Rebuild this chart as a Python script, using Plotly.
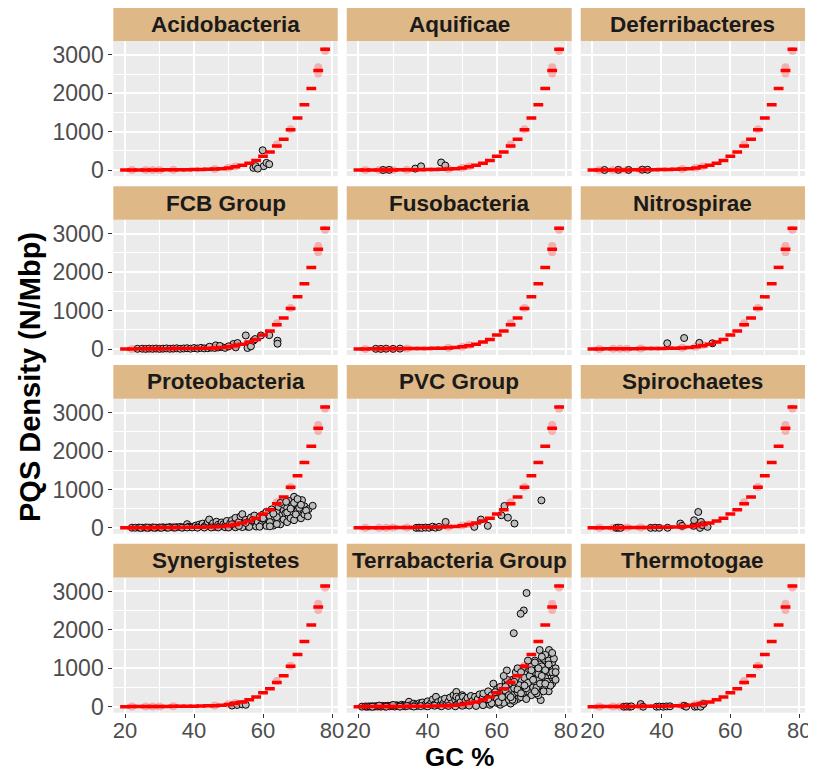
import plotly.graph_objects as go

# the page body adds an 8px margin; the figure is sized so the page fits the window
OFF = 8
W, H = 816 - OFF, 771 - OFF

phyla = ["Acidobacteria", "Aquificae", "Deferribacteres",
         "FCB Group", "Fusobacteria", "Nitrospirae",
         "Proteobacteria", "PVC Group", "Spirochaetes",
         "Synergistetes", "Terrabacteria Group", "Thermotogae"]

# expected (red dashes), same in every panel
exp_gc = [20, 22, 24, 26, 28, 30, 32, 34, 36, 38, 40, 42, 44, 46, 48,
          50, 52, 54, 56, 58, 60, 62, 64, 66, 68, 70, 72, 74, 76, 78]
exp_density = [2, 3, 4, 5, 6, 7, 8, 10, 11, 13, 15, 18, 22, 28, 38,
               58, 88, 125, 180, 250, 362, 470, 630, 806, 1055, 1358, 1700, 2125, 2595, 3145]

# replicate (faded red circles)
rep_gc = [22, 26, 28, 30, 34, 46, 50, 52, 64, 68, 76, 76, 78]
rep_density = [3, 5, 6, 7, 10, 30, 62, 95, 670, 1065, 2680, 2520, 3100]

# observed genomes per phylum
acido_gc = [57.2, 57.9, 59.9, 60.2, 61.0, 61.8, 58.5]
acido_den = [60, 104, 518, 104, 190, 155, 40]

aquif_gc = [27.1, 28.9, 36.4, 38.1, 43.9, 45.1]
aquif_den = [5, 8, 40, 100, 200, 120]

defer_gc = [23.5, 27.5, 30.5, 34.5, 36]
defer_den = [5, 8, 6, 12, 10]

fcb_gc = [23.6, 25, 26, 27, 28, 29, 30, 31, 32, 33, 34, 35, 36, 37, 38, 39, 40, 41, 42, 43, 44, 45,
          46, 47, 48, 46.3, 51.4, 52.6, 52.1, 55, 55.5, 56.5, 57.2, 57.7, 59.4, 61.8, 64.2, 64.2,
          44.5, 47.5, 49, 50]
fcb_den = [5, 8, 3, 10, 6, 12, 4, 9, 15, 7, 11, 18, 6, 14, 20, 9, 25, 12, 30, 16, 22, 35,
           28, 40, 50, 95, 130, 155, 43, 353, 26, 69, 216, 259, 353, 362, 216, 138,
           60, 80, 30, 70]

fuso_gc = [25, 26.5, 28, 30, 32]
fuso_den = [5, 3, 8, 4, 10]

nitro_gc = [41.7, 46.6, 51.0, 54.8]
nitro_den = [150, 286, 160, 150]

proteo_gc = [22, 23, 24, 25, 26, 27, 28, 29, 30, 31, 32, 33, 34, 35, 36, 37, 38, 38.5, 39, 40,
             24.5, 26.5, 28.5, 30.5, 32.5, 34.5, 36.5, 38, 39.5,
             40.5, 41, 41.5, 42, 42.5, 43, 43.5, 44, 44.4, 45, 45.5, 46, 46.5, 47, 47.5, 48, 48.5, 49, 49.5, 50,
             41, 43, 45, 47, 49,
             50.5, 51, 51.5, 52, 52.5, 53, 53.5, 54, 54.5, 55, 55.5, 56, 56.5, 57, 57.5, 58,
             50, 52, 54, 56, 58, 51, 53, 55, 57,
             58.5, 59, 59.5, 60, 60.5, 61, 61.5, 62, 62.5, 63, 63.5, 64, 64.5, 65, 65.5, 66,
             59, 61, 63, 65, 60, 62, 64, 66, 66, 65, 64, 63, 62,
             66.5, 67, 67.5, 68, 68.5, 69, 69.5, 70, 70.5, 71, 71.3, 71.5, 72,
             67, 68, 69, 70, 67.5, 68.5, 69.5, 70.5, 71, 72, 66.7, 67, 68, 69, 70, 71,
             73.2, 74.4, 72.5, 73]
proteo_den = [5, 3, 8, 4, 10, 6, 12, 5, 9, 15, 8, 20, 12, 18, 25, 14, 96, 30, 22, 35,
              0, 2, 3, 1, 4, 6, 5, 10, 12,
              60, 20, 85, 45, 110, 30, 70, 150, 217, 55, 120, 25, 160, 80, 40, 140, 95, 60, 180, 30,
              5, 8, 10, 12, 15,
              120, 200, 70, 260, 40, 150, 300, 357, 90, 210, 30, 180, 270, 110, 320, 60,
              10, 15, 20, 25, 35, 95, 50, 130, 200,
              150, 280, 80, 350, 200, 420, 120, 300, 480, 60, 250, 400, 550, 180, 330, 460,
              30, 50, 120, 90, 250, 150, 280, 220, 600, 650, 100, 370, 40,
              380, 520, 290, 680, 420, 809, 560, 635, 300, 480, 722, 400, 560,
              150, 250, 200, 450, 700, 600, 350, 520, 250, 350, 678, 400, 500, 650, 750, 600,
              487, 574, 450, 300]

pvc_gc = [36.7, 37.5, 38.3, 39.4, 40.4, 41.4, 42.3, 43.3, 45.2, 53.5, 55.4, 57.4, 61.3, 62.2, 63.2, 65.1, 72.9]
pvc_den = [0, 5, 0, 8, 3, 30, 5, 25, 155, 26, 216, 52, 328, 569, 267, 112, 716]

spiro_gc = [26.9, 27.5, 28.2, 36.9, 38.2, 39.4, 41.8, 45.5, 46, 49.3, 49.5, 50.7, 51.5, 51.2, 51.9, 53.4]
spiro_den = [0, 5, 0, 0, 3, 0, 2, 112, 52, 52, 198, 414, 155, 0, 69, 26]

synerg_gc = [51, 52.5, 54, 55]
synerg_den = [30, 45, 60, 50]

terra_gc = [21, 22, 22.5, 23, 23.5, 24, 24.5, 25, 25.5, 26, 26.5, 27, 27.5, 28, 28.5, 29, 29.5, 30, 30.5,
            31, 31.5, 32, 32.5, 33, 33.5, 34, 34.6, 35, 35.5, 36, 36.5, 37, 37.6, 38, 38.5, 39, 39.5,
            40, 40.5, 41, 41.5, 42, 42.4, 43, 43.5, 44, 44.5, 45,
            24, 28, 32, 36, 40, 44, 26, 30, 34, 38, 42,
            45.5, 46, 46.5, 47, 47.5, 48, 48.3, 48.3, 48.5, 49, 49.5, 50, 50.2, 50.5, 51, 51.5, 52, 52.5,
            53, 53.7, 54, 54.5, 55, 55.5, 56, 56.1, 56.5, 57, 57.5, 58, 58.5, 59, 59.5, 60,
            46, 48, 50, 52, 54, 56, 58, 60,
            60.5, 61, 61.5, 62, 62.5, 62.9, 63, 63.5, 64, 64.5, 65, 65.5, 66, 66.5, 67, 67.5, 68, 68.5,
            69, 69.5, 70, 60, 61, 62, 63, 64, 65, 66, 67, 68, 69, 70, 61.5, 63.5, 65.5, 67.5, 69.5,
            64.5, 66.5, 68.5, 62, 66, 67,
            70.5, 71, 71.5, 72, 72.4, 72.5, 72.7, 73, 73.5, 74, 74.6, 75, 75.1, 75.5, 76, 76.5, 77,
            71, 72, 73, 74, 75, 76, 70.5, 71.5, 73.5, 74.5, 71, 72, 73, 74,
            62.5, 63, 63.5, 64, 64.5, 65, 65.5, 66, 66.5, 67, 67.5, 68, 68.5, 69, 69.5, 70, 70.5, 71,
            71.5, 72, 72.5, 73, 73.5, 74, 74.5, 75, 75.5, 76, 76.5, 77,
            64, 65, 66, 67, 68, 69, 70, 71, 72, 73, 74, 75, 76, 77, 60.5, 61.5, 62.5, 59.5, 58.5, 57.5,
            68.6, 67.8, 66.9, 64.9]
terra_den = [2, 5, 0, 8, 3, 10, 4, 12, 6, 15, 2, 20, 8, 14, 25, 10, 30, 18, 5,
             40, 22, 12, 50, 28, 8, 60, 129, 35, 15, 80, 45, 20, 90, 55, 110, 30, 70,
             140, 40, 95, 189, 60, 258, 120, 30, 170, 80, 210,
             0, 0, 2, 5, 8, 12, 30, 45, 20, 15, 25,
             50, 130, 240, 90, 300, 180, 386, 258, 60, 220, 120, 300, 258, 40, 160, 230, 90, 280,
             150, 258, 60, 200, 320, 110, 250, 343, 70, 180, 400, 130, 300, 600, 220, 450,
             20, 10, 25, 30, 20, 40, 50, 100,
             300, 515, 150, 400, 650, 944, 250, 500, 80, 700, 350, 600, 200, 800, 450, 1000, 300, 650,
             900, 500, 750, 200, 50, 100, 700, 450, 150, 550, 250, 850, 400, 300, 350, 180, 900, 600, 1100,
             300, 420, 200, 800, 1000, 700,
             1000, 600, 850, 400, 1476, 1100, 172, 700, 1250, 500, 1330, 900, 1476, 650, 1150, 800, 1000,
             1200, 300, 950, 1350, 400, 600, 500, 350, 850, 1050, 900, 700, 1050, 750,
             420, 560, 300, 620, 180, 480, 750, 380, 560, 900, 350, 750, 480, 620, 800, 1050, 700, 1150,
             500, 850, 600, 1300, 400, 950, 650, 1200, 550, 900, 1250, 700,
             250, 650, 450, 350, 550, 1200, 950, 400, 1000, 800, 600, 1100, 1400, 900, 120, 250, 520, 380, 90, 200,
             2961, 2506, 2420, 1914]

thermo_gc = [29.1, 29.9, 30.8, 31.3, 34, 34.7, 38.6, 39.4, 40.5, 41.5, 42.5, 46.6, 47.2, 49.7, 50.4, 51.4, 52.2]
thermo_den = [0, 5, 0, 8, 69, 0, 0, 5, 0, 8, 10, 26, 0, 0, 8, 0, 69]

obs_gc = [acido_gc, aquif_gc, defer_gc, fcb_gc, fuso_gc, nitro_gc,
          proteo_gc, pvc_gc, spiro_gc, synerg_gc, terra_gc, thermo_gc]
obs_den = [acido_den, aquif_den, defer_den, fcb_den, fuso_den, nitro_den,
           proteo_den, pvc_den, spiro_den, synerg_den, terra_den, thermo_den]

x_ticks = [20, 40, 60, 80]
y_ticks = [0, 1000, 2000, 3000]

# layout geometry (window pixels)
cols = [(113.3, 337.7), (346.7, 571.7), (580.7, 805.0)]
strip_tops = [7.3, 186.15, 365.0, 543.85]
strip_h = 33.7
panel_h = 135.15


def px(v):
    return (v - OFF) / W


def py(v):
    return 1 - (v - OFF) / H


FONT = "Liberation Sans, Arial, sans-serif"

fig = go.Figure()
layout = dict(
    width=W, height=H, margin=dict(l=0, r=0, t=0, b=0, autoexpand=False),
    paper_bgcolor="white", plot_bgcolor="#EBEBEB",
    showlegend=False, font=dict(family=FONT),
    shapes=[], annotations=[],
)

for i, name in enumerate(phyla):
    r, c = divmod(i, 3)
    x0, x1 = cols[c]
    st = strip_tops[r]
    ptop = st + strip_h
    pbot = ptop + panel_h
    k = "" if i == 0 else str(i + 1)
    xa, ya = "x" + k, "y" + k
    layout["xaxis" + k] = dict(
        domain=[px(x0), px(x1)], range=[16.6, 81.65], anchor=ya, automargin=False,
        tickvals=x_ticks, showticklabels=(r == 3), ticklabelstandoff=-6,
        ticks="outside" if r == 3 else "", ticklen=4, tickwidth=1.1, tickcolor="#333333",
        tickfont=dict(size=22, color="#4D4D4D", family=FONT),
        showgrid=True, gridcolor="white", gridwidth=1.6, zeroline=False,
        minor=dict(tickvals=[30, 50, 70], showgrid=True, gridcolor="white", gridwidth=0.7),
        showline=False, fixedrange=True,
    )
    layout["yaxis" + k] = dict(
        domain=[py(pbot), py(ptop)], range=[-156, 3363], anchor=xa, automargin=False,
        tickvals=y_ticks, showticklabels=(c == 0),
        ticks="outside" if c == 0 else "", ticklen=4, tickwidth=1.1, tickcolor="#333333",
        tickfont=dict(size=23, color="#4D4D4D", family=FONT),
        showgrid=True, gridcolor="white", gridwidth=1.6, zeroline=False,
        minor=dict(tickvals=[500, 1500, 2500], showgrid=True, gridcolor="white", gridwidth=0.7),
        showline=False, fixedrange=True,
    )
    layout["shapes"].append(dict(
        type="rect", xref="paper", yref="paper",
        x0=px(x0), x1=px(x1), y0=py(st + strip_h), y1=py(st),
        fillcolor="#DEB887", line=dict(width=0), layer="below",
    ))
    layout["annotations"].append(dict(
        xref="paper", yref="paper", x=px((x0 + x1) / 2), y=py(st + strip_h / 2),
        text="<b>%s</b>" % name, showarrow=False, xanchor="center", yanchor="middle",
        font=dict(size=22.5, color="#1A1A1A", family=FONT),
    ))

    fig.add_trace(go.Scatter(
        x=obs_gc[i], y=obs_den[i], xaxis=xa, yaxis=ya, mode="markers",
        marker=dict(size=7, color="#BEBEBE", line=dict(color="black", width=1)),
        hoverinfo="skip",
    ))
    fig.add_trace(go.Scatter(
        x=rep_gc, y=rep_density, xaxis=xa, yaxis=ya, mode="markers",
        marker=dict(size=8, color="rgba(255,0,0,0.25)", line=dict(width=0)),
        hoverinfo="skip",
    ))
    fig.add_trace(go.Scatter(
        x=exp_gc, y=exp_density, xaxis=xa, yaxis=ya, mode="markers",
        marker=dict(symbol="line-ew", size=7, line=dict(color="red", width=3.5)),
        hoverinfo="skip",
    ))

layout["annotations"].append(dict(
    xref="paper", yref="paper", x=px(30), y=py(377),
    text="<b>PQS Density (N/Mbp)</b>", textangle=-90, showarrow=False,
    xanchor="center", yanchor="middle",
    font=dict(size=29, color="black", family=FONT),
))
layout["annotations"].append(dict(
    xref="paper", yref="paper", x=px(459), y=py(757),
    text="<b>GC %</b>", showarrow=False, xanchor="center", yanchor="middle",
    font=dict(size=26, color="black", family=FONT),
))

fig.update_layout(**layout)
fig.write_html("out.html")
